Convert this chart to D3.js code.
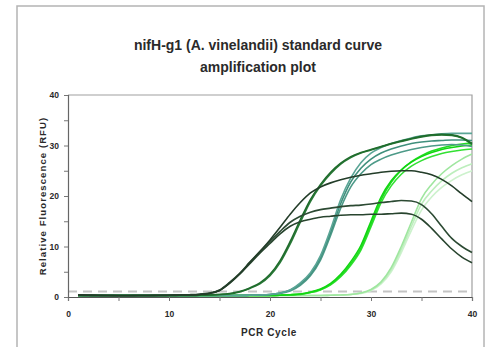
<!DOCTYPE html>
<html><head><meta charset="utf-8">
<script src="https://cdn.jsdelivr.net/npm/d3@7"></script>
<style>
html,body{margin:0;padding:0;background:#fff;}
svg text{font-family:"Liberation Sans",Arial,sans-serif;font-weight:bold;fill:#2a2a2a;}
</style></head>
<body>
<svg id="chart" width="493" height="347"></svg>
<script>
const cycles = [1,2,3,4,5,6,7,8,9,10,11,12,13,14,15,16,17,18,19,20,21,22,23,24,25,26,27,28,29,30,31,32,33,34,35,36,37,38,39,40];
const xTicks = [0,10,20,30,40];
const yTicks = [0,10,20,30,40];
const threshold = 1.1;
const titleLines = ["nifH-g1 (A. vinelandii) standard curve","amplification plot"];

// dilution 1 (dark)
const dark1 = [0.4,0.35,0.3,0.3,0.3,0.3,0.3,0.3,0.35,0.35,0.4,0.4,0.5,0.7,1.3,2.8,4.6,6.8,9.0,11.3,13.8,16.4,18.7,20.6,21.8,22.6,23.2,23.7,24.1,24.4,24.7,24.9,25.0,25.0,24.7,24.2,23.3,22.0,20.4,18.9];
const dark2 = [0.45,0.4,0.35,0.3,0.3,0.3,0.3,0.3,0.3,0.35,0.4,0.45,0.55,0.8,1.4,2.9,4.7,6.9,9.0,11.0,13.0,14.8,16.0,16.8,17.3,17.6,17.9,18.1,18.2,18.4,18.7,18.9,19.1,19.0,18.3,16.5,14.0,11.6,10.0,8.8];
const dark3 = [0.35,0.3,0.3,0.3,0.25,0.25,0.3,0.3,0.3,0.3,0.35,0.4,0.5,0.7,1.3,2.7,4.5,6.6,8.7,10.6,12.5,14.0,14.9,15.4,15.8,16.0,16.2,16.3,16.3,16.4,16.4,16.5,16.6,16.4,15.4,13.6,11.5,9.5,7.9,6.8];
// dilution 2 (forest)
const forest1 = [0.3,0.3,0.3,0.3,0.3,0.3,0.3,0.3,0.3,0.3,0.3,0.3,0.35,0.4,0.5,0.7,1.1,1.8,2.8,4.5,7.2,11.0,15.3,19.3,22.3,24.7,26.5,27.8,28.6,29.2,29.8,30.4,30.9,31.4,31.8,32.1,32.2,32.1,31.6,30.4];
const forest2 = [0.3,0.3,0.3,0.3,0.3,0.3,0.3,0.3,0.3,0.3,0.3,0.3,0.35,0.4,0.5,0.6,1.0,1.7,2.6,4.2,6.8,10.5,14.8,18.9,22.0,24.4,26.3,27.6,28.5,29.1,29.7,30.3,30.8,31.3,31.7,32.0,32.1,32.0,31.5,30.2];
// dilution 3 (teal)
const teal1 = [0.3,0.3,0.3,0.3,0.3,0.3,0.3,0.3,0.3,0.3,0.3,0.3,0.3,0.3,0.3,0.3,0.3,0.35,0.4,0.5,0.8,1.4,2.8,4.8,8.2,13.4,19.3,23.6,26.6,28.5,29.6,30.4,31.0,31.5,31.9,32.1,32.3,32.4,32.4,32.4];
const teal2 = [0.3,0.3,0.3,0.3,0.3,0.3,0.3,0.3,0.3,0.3,0.3,0.3,0.3,0.3,0.3,0.3,0.3,0.35,0.4,0.5,0.8,1.4,2.6,4.5,7.8,12.8,18.5,22.8,25.5,27.3,28.5,29.3,29.9,30.4,30.7,30.9,31.0,31.1,31.1,31.0];
const teal3 = [0.3,0.3,0.3,0.3,0.3,0.3,0.3,0.3,0.3,0.3,0.3,0.3,0.3,0.3,0.3,0.3,0.3,0.35,0.4,0.5,0.7,1.2,2.3,4.2,7.3,12.2,17.6,21.8,24.4,26.2,27.3,28.1,28.7,29.2,29.6,29.9,30.1,30.2,30.1,29.8];
// dilution 4 (bright)
const bright1 = [0.3,0.3,0.3,0.3,0.3,0.3,0.3,0.3,0.3,0.3,0.3,0.3,0.3,0.3,0.3,0.3,0.3,0.3,0.3,0.3,0.35,0.45,0.6,1.0,1.6,2.7,4.5,7.0,10.2,15.0,19.8,23.0,25.2,26.7,27.8,28.6,29.2,29.6,29.9,30.1];
const bright2 = [0.3,0.3,0.3,0.3,0.3,0.3,0.3,0.3,0.3,0.3,0.3,0.3,0.3,0.3,0.3,0.3,0.3,0.3,0.3,0.3,0.35,0.45,0.6,0.9,1.5,2.5,4.2,6.6,9.7,14.4,19.3,22.7,25.1,26.8,28.0,28.9,29.5,30.0,30.3,30.5];
const bright3 = [0.3,0.3,0.3,0.3,0.3,0.3,0.3,0.3,0.3,0.3,0.3,0.3,0.3,0.3,0.3,0.3,0.3,0.3,0.3,0.3,0.35,0.4,0.5,0.9,1.4,2.4,4.0,6.3,9.3,13.9,18.7,22.0,24.3,25.9,27.0,27.8,28.4,28.8,29.1,29.3];
// dilution 5 (light)
const light1 = [0.3,0.3,0.3,0.3,0.3,0.3,0.3,0.3,0.3,0.3,0.3,0.3,0.3,0.3,0.3,0.3,0.3,0.3,0.3,0.3,0.3,0.3,0.3,0.3,0.3,0.35,0.4,0.5,0.8,1.5,3.0,5.8,10.0,14.8,19.5,22.3,24.4,26.0,27.3,28.3];
const light2 = [0.3,0.3,0.3,0.3,0.3,0.3,0.3,0.3,0.3,0.3,0.3,0.3,0.3,0.3,0.3,0.3,0.3,0.3,0.3,0.3,0.3,0.3,0.3,0.3,0.3,0.35,0.4,0.5,0.8,1.4,2.8,5.4,9.4,14.0,18.4,21.0,23.0,24.5,25.6,26.4];
const light3 = [0.3,0.3,0.3,0.3,0.3,0.3,0.3,0.3,0.3,0.3,0.3,0.3,0.3,0.3,0.3,0.3,0.3,0.3,0.3,0.3,0.3,0.3,0.3,0.3,0.3,0.35,0.4,0.5,0.7,1.3,2.6,5.0,8.8,13.2,17.2,19.8,21.7,23.1,24.2,25.0];

const series = [
  {v: light3, c: "#cdf2cd"}, {v: light2, c: "#bdeebd"}, {v: light1, c: "#9fe69f"},
  {v: bright3, c: "#33e033"}, {v: bright2, c: "#22dd22"}, {v: bright1, c: "#11d611"},
  {v: teal3, c: "#4d9a88"}, {v: teal2, c: "#3f8f7c"}, {v: teal1, c: "#5aa596"},
  {v: forest2, c: "#2a7a38"}, {v: forest1, c: "#1f6c2c"},
  {v: dark3, c: "#28442e"}, {v: dark2, c: "#2c4a33"}, {v: dark1, c: "#233d29"}
];

const svg = d3.select("#chart");
// outer frame
svg.append("rect").attr("x",17).attr("y",6).attr("width",467).attr("height",360)
  .attr("fill","none").attr("stroke","#b4b4b4").attr("stroke-width",1.5);

const m = {left:68, top:95, right:472, bottom:297};
const x = d3.scaleLinear().domain([0,40]).range([m.left,m.right]);
const y = d3.scaleLinear().domain([0,40]).range([m.bottom,m.top]);

// title
svg.append("text").attr("x",258).attr("y",50).attr("text-anchor","middle")
  .style("font-size","14px").text(titleLines[0]);
svg.append("text").attr("x",258).attr("y",72).attr("text-anchor","middle")
  .style("font-size","14px").text(titleLines[1]);

// plot frame (top/right)
svg.append("path").attr("d",`M${m.left},${m.top}H${m.right}V${m.bottom}`)
  .attr("fill","none").attr("stroke","#a0a0a0").attr("stroke-width",1.2);

// threshold
svg.append("line").attr("x1",x(0)).attr("x2",x(40)).attr("y1",y(threshold)).attr("y2",y(threshold))
  .attr("stroke","#c4c4c4").attr("stroke-width",2).attr("stroke-dasharray","9,6");

const line = d3.line().x((d,i)=>x(cycles[i])).y(d=>y(d)).curve(d3.curveMonotoneX);
const g = svg.append("g");
series.forEach(s=>{
  g.append("path").attr("d",line(s.v)).attr("fill","none").attr("stroke",s.c)
   .attr("stroke-width",1.6).attr("stroke-linejoin","round");
});

// axes
const xAxis = d3.axisBottom(x).tickValues(d3.range(0,41,5)).tickSize(4)
  .tickFormat(d=>xTicks.includes(d)?d:"");
const gx = svg.append("g").attr("transform",`translate(0,${m.bottom})`).call(xAxis);
gx.select(".domain").attr("stroke","#555").attr("stroke-width",1.2);
gx.selectAll(".tick line").attr("stroke","#777");
gx.selectAll(".tick text").attr("dy","1.5em").style("font-size","8.5px").attr("fill","#2a2a2a");

const yAxis = d3.axisLeft(y).tickValues(d3.range(0,41,5)).tickSize(4)
  .tickFormat(d=>yTicks.includes(d)?d:"");
const gy = svg.append("g").attr("transform",`translate(${m.left},0)`).call(yAxis);
gy.select(".domain").attr("stroke","#666").attr("stroke-width",1.2);
gy.selectAll(".tick line").attr("stroke","#777");
gy.selectAll(".tick text").attr("x",-9).style("font-size","8.5px").attr("fill","#2a2a2a");

// axis labels
svg.append("text").attr("x",269).attr("y",336).attr("text-anchor","middle")
  .style("font-size","10px").style("letter-spacing","0.6px").text("PCR Cycle");
svg.append("text").attr("transform",`translate(46,${(m.top+m.bottom)/2}) rotate(-90)`)
  .attr("text-anchor","middle").style("font-size","9.5px").style("letter-spacing","1.1px")
  .text("Relative Fluorescence (RFU)");
</script>
</body></html>
